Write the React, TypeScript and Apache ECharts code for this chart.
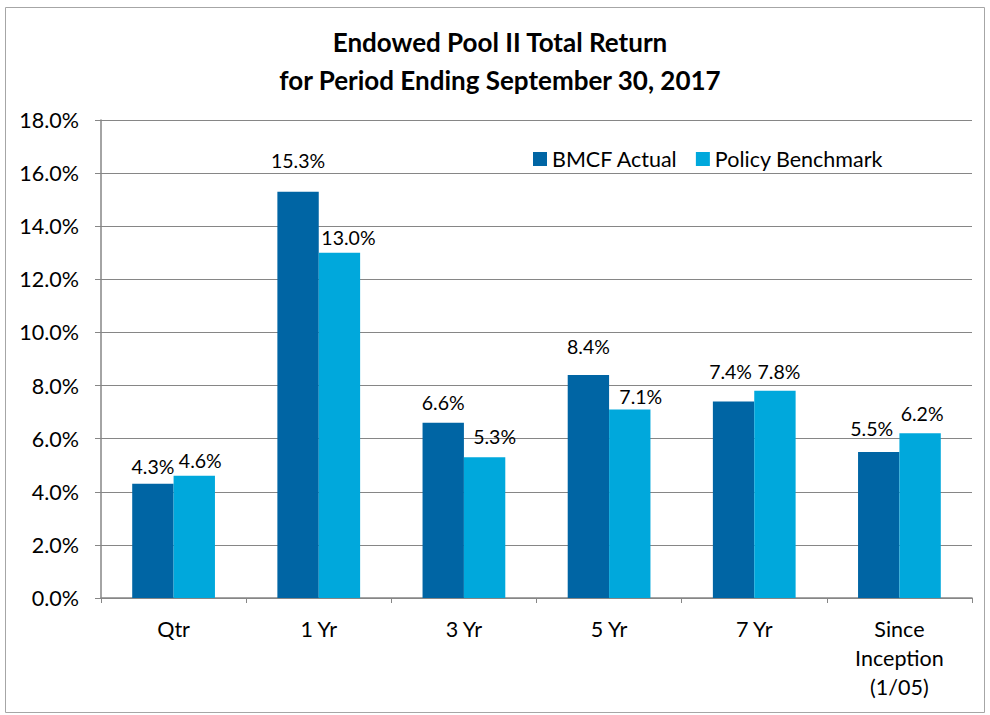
import React, { useEffect, useRef } from "react";
import * as echarts from "echarts";

const categories = ["Qtr", "1 Yr", "3 Yr", "5 Yr", "7 Yr", "Since\nInception\n(1/05)"];
const bmcfActual = [4.3, 15.3, 6.6, 8.4, 7.4, 5.5];
const policyBenchmark = [4.6, 13.0, 5.3, 7.1, 7.8, 6.2];
const seriesNames = ["BMCF Actual", "Policy Benchmark"];
const titleLines = ["Endowed Pool II Total Return", "for Period Ending September 30, 2017"];
const yTicks = { min: 0, max: 18, interval: 2 };

// label placement tweaks above bars (style, px)
const bmcfLabelGap = [7, 21, 10, 18, 20, 13];
const policyLabelGap = [5, 5, 11, 3, 9, 10];
const bmcfLabelShift = [0, 0, 0, 0, -3, -7];
const policyLabelShift = [6, 9, 10, 11, 4, 2];

const FONT = "Lato, 'Open Sans', sans-serif";
const FS = 21.5;
const LABEL_FS = 19.5;

export default function App() {
  const ref = useRef<HTMLDivElement>(null);
  useEffect(() => {
    const chart = echarts.init(ref.current!, undefined, { renderer: "svg" });
    const labelStyle = {
      show: true,
      position: "top",
      fontFamily: FONT,
      fontSize: LABEL_FS,
      color: "#000",
      formatter: (p: any) => p.value.toFixed(1) + "%",
    };
    const items = (vals: number[], gaps: number[], shifts: number[]) =>
      vals.map((v, i) => ({ value: v, label: { distance: gaps[i], offset: [shifts[i], 0] } }));
    chart.setOption({
      animation: false,
      backgroundColor: "#fff",
      graphic: [
        {
          type: "rect",
          shape: { x: 5.5, y: 7.5, width: 979, height: 705 },
          style: { fill: "none", stroke: "#a6a6a6", lineWidth: 1 },
          silent: true,
        },
        ...titleLines.map((t, i) => ({
          type: "text",
          x: 500,
          y: 42 + i * 38,
          silent: true,
          style: {
            text: t,
            fontFamily: FONT,
            fontSize: 26,
            fontWeight: "bold",
            fill: "#000",
            textAlign: "center",
            textVerticalAlign: "middle",
          },
        })),
      ],
      legend: {
        data: seriesNames,
        left: 528,
        top: 143,
        itemWidth: 14,
        itemHeight: 14,
        itemGap: 18,
        icon: "rect",
        textStyle: { fontFamily: FONT, fontSize: FS, color: "#000" },
      },
      grid: { left: 101, right: 18, top: 120, bottom: 117, containLabel: false },
      xAxis: {
        type: "category",
        data: categories,
        axisLine: { lineStyle: { color: "#868686", width: 1.5 } },
        axisTick: { show: true, alignWithLabel: false, length: 5, lineStyle: { color: "#868686" } },
        axisLabel: {
          fontFamily: FONT,
          fontSize: FS,
          color: "#000",
          lineHeight: 29,
          margin: 16,
          interval: 0,
        },
      },
      yAxis: {
        type: "value",
        min: yTicks.min,
        max: yTicks.max,
        interval: yTicks.interval,
        axisLine: { show: true, lineStyle: { color: "#868686", width: 1.5 } },
        axisTick: { show: true, length: 6, lineStyle: { color: "#868686" } },
        splitLine: { lineStyle: { color: "#868686", width: 1 } },
        axisLabel: {
          fontFamily: FONT,
          fontSize: FS,
          color: "#000",
          margin: 22,
          formatter: (v: number) => v.toFixed(1) + "%",
        },
      },
      series: [
        {
          name: seriesNames[0],
          type: "bar",
          data: items(bmcfActual, bmcfLabelGap, bmcfLabelShift),
          itemStyle: { color: "#0065a4" },
          barGap: "0%",
          barCategoryGap: "43%",
          label: labelStyle,
        },
        {
          name: seriesNames[1],
          type: "bar",
          data: items(policyBenchmark, policyLabelGap, policyLabelShift),
          itemStyle: { color: "#00a8dc" },
          barGap: "0%",
          barCategoryGap: "43%",
          label: labelStyle,
        },
      ],
    });
    return () => chart.dispose();
  }, []);
  return (
    <div
      ref={ref}
      style={{ position: "fixed", left: 0, top: 0, width: 990, height: 715 }}
    />
  );
}
